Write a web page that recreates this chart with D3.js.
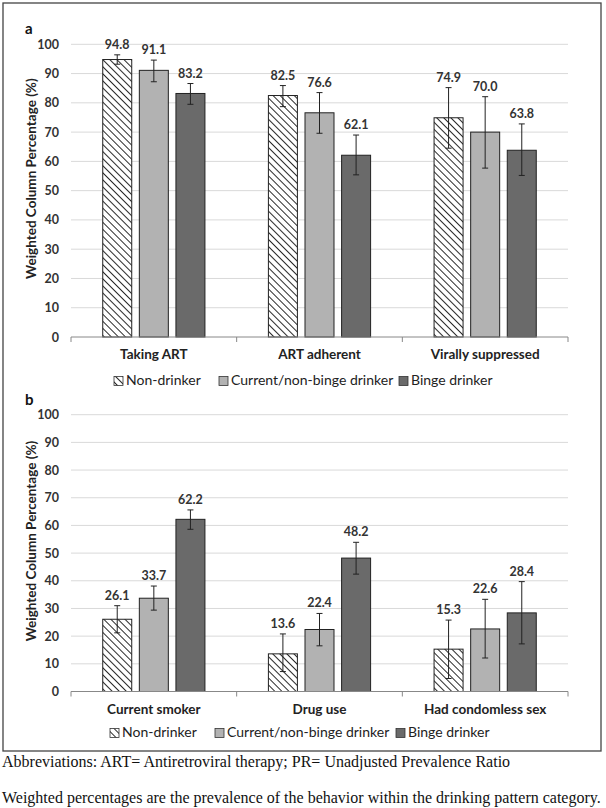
<!DOCTYPE html>
<html><head><meta charset="utf-8">
<script src="https://cdn.jsdelivr.net/npm/d3@7/dist/d3.min.js"></script>
<style>
html,body{margin:0;padding:0;background:#fff;}
svg{display:block;}
</style></head>
<body>
<svg id="c" width="606" height="808"></svg>
<script>
// ---- data ----
const series = ["Non-drinker", "Current/non-binge drinker", "Binge drinker"];
const catsA = ["Taking ART", "ART adherent", "Virally suppressed"];
const catsB = ["Current smoker", "Drug use", "Had condomless sex"];
// values per category: [non, current, binge]
const valsA = [[94.8, 91.1, 83.2], [82.5, 76.6, 62.1], [74.9, 70.0, 63.8]];
const lowA  = [[93.2, 87.2, 79.5], [78.7, 69.6, 55.4], [64.5, 57.7, 55.2]];
const highA = [[96.4, 94.6, 86.6], [85.9, 83.5, 69.0], [85.2, 82.1, 72.8]];
const valsB = [[26.1, 33.7, 62.2], [13.6, 22.4, 48.2], [15.3, 22.6, 28.4]];
const lowB  = [[21.2, 29.4, 58.6], [7.2, 16.5, 42.4], [4.7, 12.1, 17.2]];
const highB = [[31.0, 38.1, 65.6], [20.8, 28.2, 53.9], [25.8, 33.3, 39.7]];
const yTicks = [0, 10, 20, 30, 40, 50, 60, 70, 80, 90, 100];
const yTitle = "Weighted Column Percentage (%)";
const notes = ["Abbreviations: ART= Antiretroviral therapy; PR= Unadjusted Prevalence Ratio",
  "Weighted percentages are the prevalence of the behavior within the drinking pattern category."];

const svg = d3.select("#c");
const FONT = "Lato, 'Open Sans', sans-serif";
const fills = ["url(#hatch)", "#b2b2b2", "#6a6a6a"];

const defs = svg.append("defs");
const pat = defs.append("pattern").attr("id", "hatch").attr("patternUnits", "userSpaceOnUse")
  .attr("width", 5).attr("height", 5).attr("patternTransform", "rotate(-45)");
pat.append("rect").attr("width", 5).attr("height", 5).attr("fill", "#fff");
pat.append("line").attr("x1", 0).attr("y1", 0).attr("x2", 0).attr("y2", 5)
  .attr("stroke", "#111").attr("stroke-width", 1.8);

// outer border
svg.append("rect").attr("x", 3).attr("y", 3).attr("width", 598).attr("height", 748)
  .attr("fill", "none").attr("stroke", "#444").attr("stroke-width", 1.3);

function panel(letter, cats, vals, low, high, yTop, yBot, catY, legY, legX) {
  const g = svg.append("g");
  const y = d3.scaleLinear().domain([0, 100]).range([yBot, yTop]);
  const x = d3.scaleBand().domain(cats).range([71, 568]);
  const xs = d3.scaleBand().domain(series).range([-51.1, 51.1]).paddingInner(0.2077);

  // gridlines
  g.append("g").selectAll("line").data(yTicks.filter(d => d > 0)).join("line")
    .attr("x1", 71).attr("x2", 568).attr("y1", d => y(d)).attr("y2", d => y(d))
    .attr("stroke", "#d9d9d9").attr("stroke-width", 1);

  // y axis labels
  const ya = d3.axisLeft(y).tickValues(yTicks).tickSize(0).tickPadding(12);
  const yg = g.append("g").attr("transform", "translate(71,0)").call(ya);
  yg.select(".domain").remove();
  yg.selectAll("text").attr("font-family", FONT).attr("font-size", 12.5).attr("font-weight", "bold")
    .attr("fill", "#333");

  // y title
  g.append("text").attr("transform", `translate(33,${(yTop + yBot) / 2 - 12}) rotate(-90)`)
    .attr("text-anchor", "middle").attr("dominant-baseline", "middle")
    .attr("font-family", FONT).attr("font-size", 13.5).attr("font-weight", "bold").attr("fill", "#222")
    .text(yTitle);

  // panel letter
  g.append("text").attr("x", 25).attr("y", yTop - 10).attr("font-family", FONT)
    .attr("font-size", 15).attr("font-weight", "bold").attr("fill", "#111").text(letter);

  // bars
  cats.forEach((c, ci) => {
    const cx = x(c) + x.bandwidth() / 2;
    const cg = g.append("g");
    series.forEach((s, si) => {
      const v = vals[ci][si];
      const bx = cx + xs(s);
      cg.append("rect").attr("x", bx).attr("y", y(v)).attr("width", xs.bandwidth())
        .attr("height", y(0) - y(v)).attr("fill", fills[si]).attr("stroke", "#222").attr("stroke-width", 1);
      const ex = bx + xs.bandwidth() / 2;
      const lo = low[ci][si], hi = high[ci][si];
      cg.append("line").attr("x1", ex).attr("x2", ex).attr("y1", y(lo)).attr("y2", y(hi))
        .attr("stroke", "#222").attr("stroke-width", 1);
      [lo, hi].forEach(e => cg.append("line").attr("x1", ex - 3).attr("x2", ex + 3)
        .attr("y1", y(e)).attr("y2", y(e)).attr("stroke", "#222").attr("stroke-width", 1));
      cg.append("text").attr("x", ex).attr("y", y(hi) - 6).attr("text-anchor", "middle")
        .attr("font-family", FONT).attr("font-size", 12.5).attr("font-weight", "bold").attr("fill", "#333")
        .text(v.toFixed(1));
    });
  });

  // x axis
  const xa = d3.axisBottom(x).tickSize(0).tickFormat("");
  const xg = g.append("g").attr("transform", `translate(0,${yBot})`).call(xa);
  xg.select(".domain").attr("stroke", "#888").attr("d", "M71,0H568");
  const seps = [71, ...cats.map(c => x(c) + x.bandwidth())];
  g.append("g").selectAll("line").data(seps).join("line")
    .attr("x1", d => d).attr("x2", d => d).attr("y1", yBot).attr("y2", yBot + 5).attr("stroke", "#888");
  g.append("g").selectAll("text").data(cats).join("text")
    .attr("x", d => x(d) + x.bandwidth() / 2).attr("y", catY).attr("text-anchor", "middle")
    .attr("dominant-baseline", "middle")
    .attr("font-family", FONT).attr("font-size", 13.5).attr("font-weight", "bold").attr("fill", "#222")
    .text(d => d);

  // legend
  const lg = g.append("g");
  series.forEach((s, si) => {
    lg.append("rect").attr("x", legX[si]).attr("y", legY - 4.5).attr("width", 9).attr("height", 9)
      .attr("fill", fills[si]).attr("stroke", "#333").attr("stroke-width", 0.8);
    lg.append("text").attr("x", legX[si] + 12).attr("y", legY).attr("dominant-baseline", "middle")
      .attr("font-family", FONT).attr("font-size", 14).attr("fill", "#222").text(s);
  });
}

panel("a", catsA, valsA, lowA, highA, 44.3, 337, 356, 381, [114, 219, 399]);
panel("b", catsB, valsB, lowB, highB, 414.7, 691.5, 711, 733, [110, 215, 396]);

svg.append("g").selectAll("text").data(notes).join("text")
  .attr("x", 2).attr("y", (d, i) => i === 0 ? 767 : 803)
  .attr("font-family", "'Liberation Serif', 'Times New Roman', serif").attr("font-size", 16)
  .attr("fill", "#111").text(d => d);
</script>
</body></html>
